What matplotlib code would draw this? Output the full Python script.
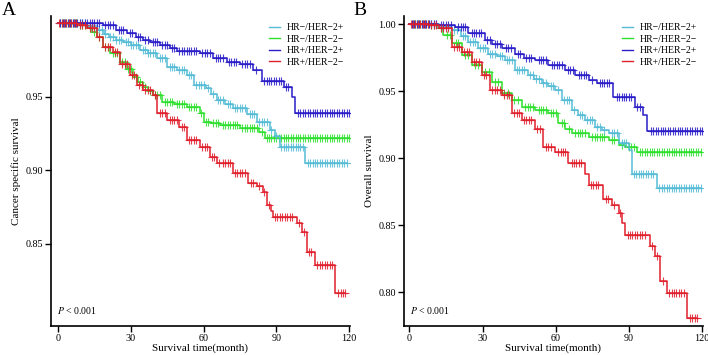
import matplotlib
matplotlib.use("Agg")
import numpy as np
import matplotlib.pyplot as plt

plt.rcParams["font.family"] = ["Liberation Serif", "DejaVu Serif"]
plt.rcParams["mathtext.fontset"] = "stix"

LABELS = ["HR\u2212/HER\u22122+", "HR\u2212/HER\u22122\u2212", "HR+/HER\u22122+", "HR+/HER\u22122\u2212"]
COLORS = ["#55BCD6", "#2EE02E", "#2A1CC8", "#E0202C"]
X_TICKS = [0, 30, 60, 90, 120]

# ---- panel A: cancer specific survival ----
A_T_CYAN = [0, 12, 16, 19, 21, 24, 27, 30, 34, 37, 41, 45, 49, 53, 56, 61, 63, 65.5, 69, 72,
            78, 82, 87.4, 89.5, 91.5, 102]
A_S_CYAN = [1.0, 0.998, 0.9956, 0.993, 0.991, 0.989, 0.987, 0.985, 0.982, 0.980, 0.9765, 0.970,
            0.968, 0.965, 0.958, 0.956, 0.952, 0.948, 0.945, 0.9425, 0.938, 0.933, 0.9276,
            0.923, 0.916, 0.905]
A_C_CYAN = [1, 2, 3, 4, 5, 6, 7, 8, 9, 10, 11, 13, 14, 15, 17, 18, 19.5, 21.5, 22.5, 24, 25,
            26, 28, 29, 30, 31, 32, 33, 35, 36, 37, 38, 39, 40, 42, 43, 44, 46, 47, 48, 50, 51,
            52, 54, 55, 57, 58, 59, 60, 62, 64, 66, 67, 68, 70, 71, 73, 74, 75, 76, 77, 79,
            80, 81, 83, 84, 85, 86, 88, 90, 92, 93, 94, 95, 96, 97, 98, 99, 100, 101, 103,
            104, 105, 106, 107, 108, 109, 110, 111, 112, 113, 114, 115, 116, 117, 118, 119]

A_T_GREEN = [0, 8, 12, 14, 16, 18.6, 21.5, 25.5, 28, 31, 33, 35, 37, 39, 43, 48, 53, 58.5, 60,
             63, 67, 75, 83, 85.5]
A_S_GREEN = [1.0, 0.999, 0.997, 0.994, 0.991, 0.984, 0.980, 0.974, 0.969, 0.9636, 0.960, 0.957,
             0.954, 0.951, 0.9466, 0.945, 0.943, 0.939, 0.933, 0.932, 0.931, 0.929, 0.926, 0.922]
A_C_GREEN = [1.5, 2.5, 3.5, 4.5, 5.5, 6.5, 7.5, 9, 10, 11, 13, 15, 17, 19.5, 20.5, 22.5, 23.5,
             24.5, 26.5, 27.5, 29, 30, 32, 34, 36, 38, 40, 41, 42, 44, 45, 46, 47, 49, 50, 51,
             52, 54, 55, 56, 57, 59, 61, 62, 64, 65, 66, 68, 69, 70, 71, 72, 73, 74, 76, 77,
             78, 79, 80, 81, 82, 84, 86, 87, 88, 89, 90, 91, 92, 93, 94, 95, 96, 97, 98, 99,
             100, 101, 102, 103, 104, 105, 106, 107, 108, 109, 110, 111, 112, 113, 114, 115,
             116, 117, 118, 119, 120]

A_T_BLUE = [0, 18.6, 24, 28.5, 32, 35, 38, 42, 46, 49, 58.5, 64, 69.5, 75, 80.5, 84, 93, 96.5,
            97.7]
A_S_BLUE = [1.0, 0.999, 0.9956, 0.9935, 0.991, 0.989, 0.987, 0.9854, 0.983, 0.981, 0.980,
            0.9765, 0.974, 0.972, 0.968, 0.961, 0.957, 0.950, 0.939]
A_C_BLUE = [1, 2, 3, 4, 5, 6, 7, 8, 9, 10, 11, 12, 13, 14, 15, 16, 17, 19.5, 20.5, 21.5, 22.5,
            25, 26, 27, 29.5, 30.5, 33, 34, 36, 37, 39, 40, 41, 43, 44, 45, 47, 48, 50, 51, 52,
            53, 54, 55, 56, 57, 59.5, 60.5, 61.5, 62.5, 65, 66, 67, 68, 70.5, 71.5, 72.5, 73.5,
            76, 77, 78, 79, 81.5, 85, 86, 87, 88, 89, 90, 91, 92, 94, 95, 99, 100, 101, 102,
            103, 104, 105, 106, 107, 108, 109, 110, 111, 112, 113, 114, 115, 116, 117, 118,
            119, 120]

A_T_RED = [0, 8, 12, 16, 18.6, 22.7, 25.6, 29.7, 32.6, 35, 39, 41, 45, 50, 53, 58.5, 62.7,
           65.5, 72, 78.5, 82, 84.5, 86, 88, 88.7, 98.5, 100.5, 102.6, 106, 114.3]
A_S_RED = [1.0, 0.999, 0.997, 0.991, 0.984, 0.9806, 0.972, 0.965, 0.958, 0.9548, 0.951,
           0.939, 0.934, 0.9296, 0.9207, 0.916, 0.909, 0.905, 0.898, 0.8915, 0.889, 0.8854,
           0.8766, 0.872, 0.868, 0.864, 0.858, 0.8446, 0.8357, 0.8167]
A_C_RED = [0.5, 1.5, 2.5, 3.5, 4.5, 5.5, 6.5, 7.5, 9, 10, 11, 13, 14, 15, 17, 19.5, 20.5,
           21.5, 23.5, 24.5, 26.5, 27.5, 28.5, 30.5, 31.5, 33.5, 34.5, 36, 37, 38, 40, 42, 43,
           44, 46, 47, 48, 49, 51, 52, 54, 55, 56, 57, 59.5, 60.5, 61.5, 63.5, 64.5, 66.5, 68,
           69, 70, 71, 73, 74, 75, 76, 77, 79.5, 80.5, 83, 85, 87, 89.5, 90.5, 91.5, 92.5,
           93.5, 94.5, 95.5, 96.5, 99.5, 101.5, 103.5, 104.5, 107, 108, 109, 110, 111, 112,
           113, 115.5, 116.5, 117.5, 118.5]

# ---- panel B: overall survival ----
B_T_CYAN = [0, 12, 17.4, 21, 24.2, 28, 32.4, 36, 39.3, 43.4, 48.8, 51, 54.3, 57, 59.8, 62.5,
            66.6, 69, 72, 76.2, 79, 81.7, 85.8, 89.9, 91.3, 101.5]
B_S_CYAN = [1.0, 0.998, 0.9955, 0.991, 0.987, 0.982, 0.978, 0.976, 0.973, 0.966, 0.962,
            0.959, 0.956, 0.954, 0.951, 0.9435, 0.936, 0.932, 0.9286, 0.9236, 0.921, 0.919,
            0.911, 0.906, 0.888, 0.878]
B_C_CYAN = [1, 2, 3, 4, 5, 6, 7, 8, 9, 10, 11, 13, 14, 15, 16, 18.5, 19.5, 22, 23, 25, 26,
            27, 29, 30, 31, 33, 34, 35, 37, 38, 40, 41, 42, 44, 45, 46, 47, 49.5, 50.5, 52, 53,
            55, 56, 58, 59, 61, 63.5, 64.5, 65.5, 67.5, 70, 71, 73, 74, 75, 77, 78, 80, 83, 84,
            85, 87, 88, 89, 92, 93, 94, 95, 96, 97, 98, 99, 100, 102.5, 103.5, 104.5, 105.5,
            106.5, 107.5, 108.5, 109.5, 110.5, 111.5, 112.5, 113.5, 114.5, 115.5, 116.5, 117.5,
            118.5, 119.5]

B_T_GREEN = [0, 8, 11.9, 14, 17.4, 21.5, 25.6, 29.7, 33.8, 37.9, 42, 46, 51.6, 57, 61, 64,
             66.6, 73.5, 81.7, 85.8, 88.5, 93.3]
B_S_GREEN = [1.0, 0.999, 0.9968, 0.992, 0.9856, 0.977, 0.9695, 0.9645, 0.957, 0.9484, 0.9435,
             0.9385, 0.936, 0.9335, 0.926, 0.922, 0.9187, 0.916, 0.9137, 0.910, 0.9087, 0.905]
B_C_GREEN = [1.5, 2.5, 3.5, 4.5, 5.5, 6.5, 7.5, 9, 10, 13, 15.5, 16.5, 19, 20, 23, 24, 27,
             28, 31, 32.5, 35, 36.5, 39, 40.5, 43, 44.5, 47.5, 48.5, 49.5, 50.5, 53, 54, 55,
             56, 58, 59, 60, 62.5, 63.5, 65.5, 68, 69, 70, 71, 72, 75, 76, 77, 78, 79, 80, 83,
             84, 87, 90, 91, 92, 94.5, 95.5, 96.5, 97.5, 98.5, 99.5, 100.5, 101.5, 102.5,
             103.5, 104.5, 105.5, 106.5, 107.5, 108.5, 109.5, 110.5, 111.5, 112.5, 113.5,
             114.5, 115.5, 116.5, 117.5, 118.5, 119.5]

B_T_BLUE = [0, 11.9, 18.7, 24.2, 31, 34, 38, 43.4, 47, 51.6, 57, 64, 68, 73.5, 77, 83.7, 92.6,
            96, 97.4]
B_S_BLUE = [1.0, 0.999, 0.998, 0.993, 0.988, 0.985, 0.982, 0.978, 0.975, 0.973, 0.9695, 0.966,
            0.962, 0.958, 0.956, 0.946, 0.9385, 0.932, 0.920]
B_C_BLUE = [1, 2, 3, 4, 5, 6, 7, 8, 9, 10, 11, 13, 14, 15, 16, 17, 20, 21, 22, 23, 25.5, 26.5,
            27.5, 28.5, 29.5, 32, 33, 35, 36, 37, 39.5, 40.5, 41.5, 44.5, 45.5, 48, 49, 50, 53,
            54, 55, 56, 58.5, 59.5, 60.5, 61.5, 62.5, 65, 66, 67, 69.5, 70.5, 71.5, 72.5, 75,
            78, 79, 80, 81, 82, 85, 86, 87, 88, 89, 90, 91, 93.5, 94.5, 99, 100, 101, 102, 103,
            104, 105, 106, 107, 108, 109, 110, 111, 112, 113, 114, 115, 116, 117, 118, 119, 120]

B_T_RED = [0, 8, 12, 17.4, 21.5, 25.6, 29.7, 33, 38, 42, 46, 51.6, 55, 59.8, 65.2, 72, 73.5,
           79.6, 83, 85.8, 87.2, 88.5, 98.8, 100.8, 102.9, 105.6, 113.8]
B_S_RED = [1.0, 0.999, 0.997, 0.983, 0.979, 0.972, 0.962, 0.951, 0.947, 0.9335, 0.9286, 0.922,
           0.9087, 0.905, 0.8963, 0.888, 0.880, 0.870, 0.8653, 0.859, 0.8517, 0.843, 0.8343,
           0.827, 0.8083, 0.7996, 0.781]
B_C_RED = [0.5, 1.5, 2.5, 3.5, 4.5, 5.5, 6.5, 7.5, 9, 10, 11, 13, 14, 15, 16, 18.5, 19.5, 20.5,
           22.5, 23.5, 24.5, 26.5, 27.5, 28.5, 30.5, 31.5, 34, 35, 36, 37, 39, 40, 41, 43, 44,
           45, 47, 48, 49, 50, 52.5, 53.5, 56, 57, 58, 61, 62, 63, 64, 66.5, 67.5, 68.5, 69.5,
           70.5, 74.5, 75.5, 76.5, 77.5, 80.5, 81.5, 84, 86.5, 89.5, 90.5, 91.5, 92.5, 93.5,
           94.5, 95.5, 96.5, 99.5, 101.5, 104, 106.5, 107.5, 108.5, 109.5, 110.5, 111.5, 112.5,
           115, 116, 117, 118]


def step_value(times, surv, t):
    idx = np.searchsorted(times, t, side="right") - 1
    return np.asarray(surv)[idx]


def draw_curve(ax, times, surv, cens, color):
    end = max(cens[-1], times[-1])
    tt = list(times) + [end]
    ss = list(surv) + [surv[-1]]
    ax.step(tt, ss, where="post", color=color, lw=1.1)
    cy = step_value(times, surv, np.array(cens))
    ax.plot(cens, cy, ls="none", marker="+", ms=6, mew=0.8, color=color, alpha=0.85)


def style_axes(ax, ylabel, ylim, xlim, yticks):
    ax.set_xlim(*xlim)
    ax.set_ylim(*ylim)
    ax.set_xticks(X_TICKS)
    ax.set_yticks(yticks)
    ax.set_yticklabels([f"{v:.2f}" for v in yticks])
    for s in ["top", "right"]:
        ax.spines[s].set_visible(False)
    ax.spines["left"].set_linewidth(1.2)
    ax.spines["bottom"].set_linewidth(1.2)
    ax.tick_params(labelsize=7.3, length=4, width=1.0, pad=2)
    ax.set_xlabel("Survival time(month)", fontsize=8, labelpad=0)
    ax.set_ylabel(ylabel, fontsize=8, labelpad=3)
    ax.text(0.02, 0.04, r"$\mathit{P}$ < 0.001", transform=ax.transAxes, fontsize=7)
    handles = [plt.Line2D([], [], color=c, lw=1.0) for c in COLORS]
    ax.legend(handles, LABELS, loc="upper right", bbox_to_anchor=(1.0, 0.995), frameon=False,
              fontsize=7, handlelength=1.1, handletextpad=0.7, labelspacing=0.25,
              borderaxespad=0.2)


fig = plt.figure(figsize=(7.08, 3.55), dpi=100)
ax_a = fig.add_axes([0.0720, 0.0817, 0.4223, 0.8732])
ax_b = fig.add_axes([0.5706, 0.0817, 0.4223, 0.8732])

draw_curve(ax_a, A_T_GREEN, A_S_GREEN, A_C_GREEN, COLORS[1])
draw_curve(ax_a, A_T_CYAN, A_S_CYAN, A_C_CYAN, COLORS[0])
draw_curve(ax_a, A_T_BLUE, A_S_BLUE, A_C_BLUE, COLORS[2])
draw_curve(ax_a, A_T_RED, A_S_RED, A_C_RED, COLORS[3])
style_axes(ax_a, "Cancer specific survival", (0.794, 1.005), (-2.9, 120.4), [0.85, 0.90, 0.95])

draw_curve(ax_b, B_T_GREEN, B_S_GREEN, B_C_GREEN, COLORS[1])
draw_curve(ax_b, B_T_CYAN, B_S_CYAN, B_C_CYAN, COLORS[0])
draw_curve(ax_b, B_T_BLUE, B_S_BLUE, B_C_BLUE, COLORS[2])
draw_curve(ax_b, B_T_RED, B_S_RED, B_C_RED, COLORS[3])
style_axes(ax_b, "Overall survival", (0.775, 1.006), (-2.2, 120.4),
           [0.80, 0.85, 0.90, 0.95, 1.00])

fig.text(0.002, 0.995, "A", fontsize=14, va="top", ha="left")
fig.text(0.499, 0.995, "B", fontsize=14, va="top", ha="left")

fig.savefig("out.png", dpi=100)
